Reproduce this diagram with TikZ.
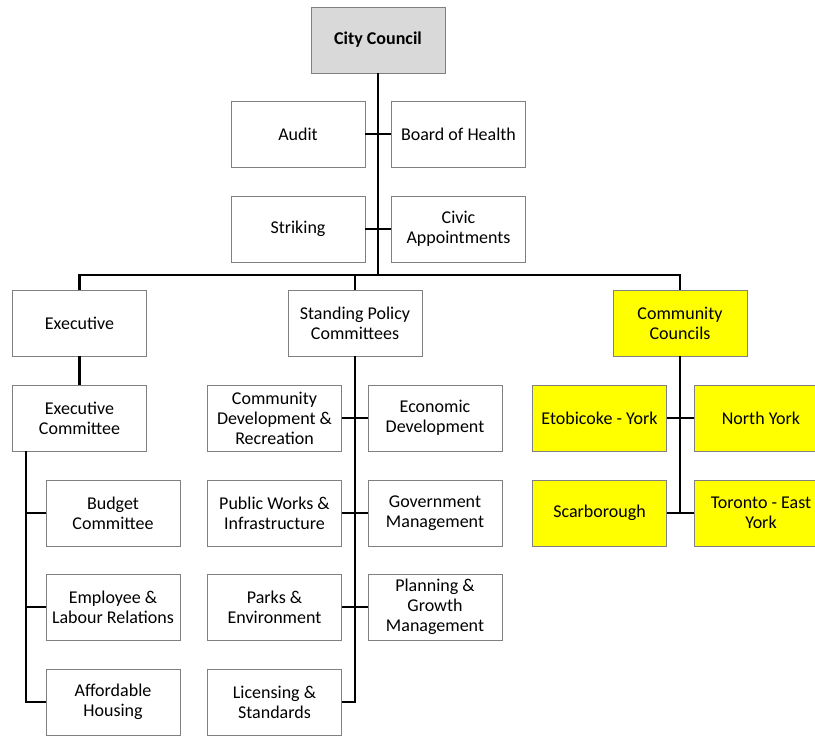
\documentclass[tikz,border=0pt]{standalone}
\usepackage{fontspec}
\setmainfont{Carlito}
\usepackage{tikz}
\usetikzlibrary{positioning}
\usepackage{xcolor}
\definecolor{boxgray}{RGB}{128,128,128}
\definecolor{headfill}{RGB}{217,217,217}
\definecolor{ccyellow}{RGB}{255,255,0}

\begin{document}
\begin{tikzpicture}[x=0.75pt,y=-0.75pt,
	box/.style={draw=boxgray, line width=0.6pt, fill=white, minimum width=100.5pt, minimum height=49.5pt,
		inner sep=1pt, align=center, font=\fontsize{13.5}{15}\selectfont},
	conn/.style={black, line width=2pt}]
	\useasboundingbox (0,0) rectangle (815,736);
	% top
	\node [box, fill=headfill, font=\fontsize{13.5}{15}\selectfont\bfseries] (council) at (378,40) {City Council};
	\node [box] (audit) at (298,134) {Audit};
	\node [box] (health) at (458.5,134) {Board of Health};
	\node [box] (striking) at (298,229) {Striking};
	\node [box] (civic) at (458.5,229) {Civic\\Appointments};
	\coordinate (bar) at (378,275);
	% second level
	\node [box] (exec) at (79.5,323) {Executive};
	\node [box] (spc) at (355,323) {Standing Policy\\Committees};
	\node [box, fill=ccyellow] (commc) at (680,323) {Community\\Councils};
	% executive branch
	\node [box] (execcom) at (79.5,418) {Executive\\Committee};
	\coordinate (etrunk) at (26,451);
	\node [box] (budget) at (113,513) {Budget\\Committee};
	\node [box] (employee) at (113,607) {Employee \&\\Labour Relations};
	\node [box] (housing) at (113,702) {Affordable\\Housing};
	% standing policy branch
	\node [box] (commdev) at (274.5,418) {Community\\Development \&\\Recreation};
	\node [box] (econ) at (435,418) {Economic\\Development};
	\node [box] (works) at (274.5,513) {Public Works \&\\Infrastructure};
	\node [box] (govt) at (435,513) {Government\\Management};
	\node [box] (parks) at (274.5,607) {Parks \&\\Environment};
	\node [box] (planning) at (435,607) {Planning \&\\Growth\\Management};
	\node [box] (licensing) at (274.5,702) {Licensing \&\\Standards};
	% community councils branch
	\node [box, fill=ccyellow] (etobicoke) at (599.5,418) {Etobicoke - York};
	\node [box, fill=ccyellow] (northyork) at (761,418) {North York};
	\node [box, fill=ccyellow] (scarb) at (599.5,513) {Scarborough};
	\node [box, fill=ccyellow] (toronto) at (761,513) {Toronto - East\\York};
	% lines
	\draw [conn] (council.south)--(bar);
	\draw [conn] (audit.east)--(health.west);
	\draw [conn] (striking.east)--(civic.west);
	\draw [conn] (exec.north) |- (bar) -| (commc.north);
	\draw [conn] (spc.north)--(spc.north |- bar);
	\draw [conn] (exec.south)--(execcom.north);
	\draw [conn] (etrunk) |- (housing.west);
	\draw [conn] (budget.west)--(budget.west -| etrunk);
	\draw [conn] (employee.west)--(employee.west -| etrunk);
	\draw [conn] (spc.south) |- (licensing.east);
	\draw [conn] (commdev.east)--(econ.west);
	\draw [conn] (works.east)--(govt.west);
	\draw [conn] (parks.east)--(planning.west);
	\draw [conn] (commc.south)--(commc.south |- scarb.east);
	\draw [conn] (etobicoke.east)--(northyork.west);
	\draw [conn] (scarb.east)--(toronto.west);
\end{tikzpicture}
\end{document}
